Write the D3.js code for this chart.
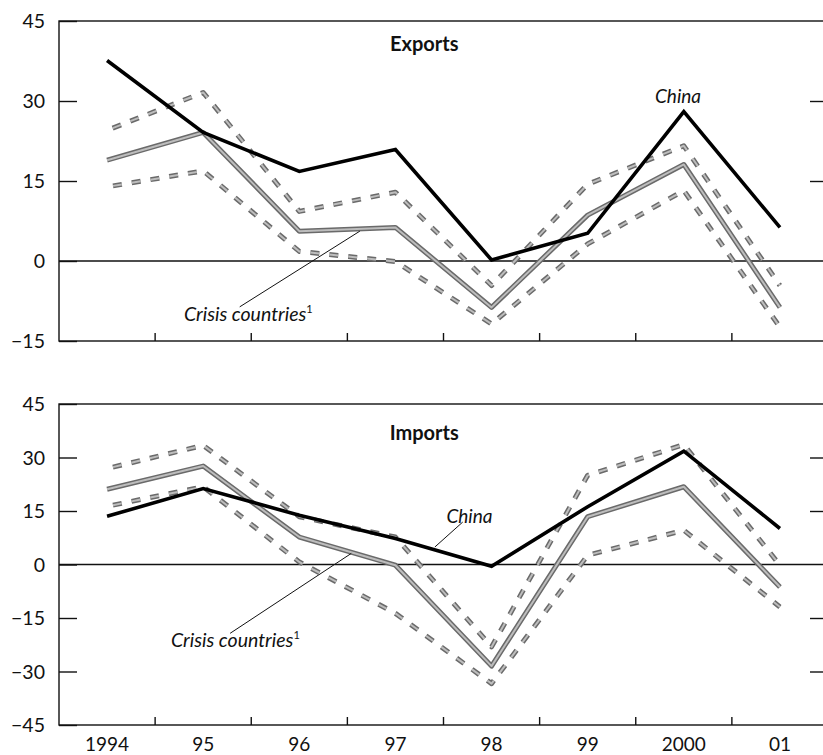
<!DOCTYPE html>
<html>
<head>
<meta charset="utf-8">
<script src="https://cdn.jsdelivr.net/npm/d3@7"></script>
<style>
  html, body { margin: 0; padding: 0; background: #fff; }
  svg { display: block; }
  text { font-family: Lato, "Open Sans", sans-serif; fill: #111; }
</style>
</head>
<body>
<svg id="chart" width="823" height="755"></svg>
<script>
// Annual percent change in trade values, China vs. crisis countries
const years = ["1994", "95", "96", "97", "98", "99", "2000", "01"];
const yTicks = [45, 30, 15, 0, -15, -30, -45];

// Exports
const exportsChina  = [37.6, 24.1, 16.8, 20.9, 0.2, 5.2, 28.0, 6.3];
const exportsCrisis = [18.9, 24.1, 5.6, 6.3, -8.7, 8.6, 18.1, -8.7];
const exportsHigh   = [24.5, 31.6, 9.3, 12.9, -4.6, 14.4, 21.6, -4.6];
const exportsLow    = [13.9, 16.9, 1.8, -0.1, -11.8, 3.2, 13.2, -12.4];

// Imports
const importsChina  = [13.5, 21.3, 13.8, 7.3, -0.5, 16.2, 31.8, 10.1];
const importsCrisis = [21.1, 27.6, 7.7, -0.2, -28.5, 13.4, 21.8, -6.3];
const importsHigh   = [26.9, 33.4, 13.4, 7.7, -23.1, 25.0, 33.6, -0.2];
const importsLow    = [16.3, 21.8, 0.7, -13.7, -33.4, 2.6, 9.6, -11.9];

const svg = d3.select("#chart");

const panels = [
  {
    title: "Exports", top: 21, bottom: 341, domain: [-15, 45],
    ticks: [45, 30, 15, 0, -15], titleV: 39.4,
    china: exportsChina, crisis: exportsCrisis, high: exportsHigh, low: exportsLow,
    chinaLabel: { i: 5.94, v: 29.6, anchor: "middle" },
    chinaLeader: null,
    crisisLabel: { i: 0.80, v: -11.25 },
    crisisLeader: [[1.38, -8.6], [2.63, 5.6]]
  },
  {
    title: "Imports", top: 404, bottom: 725, domain: [-45, 45],
    ticks: yTicks, titleV: 34.8,
    china: importsChina, crisis: importsCrisis, high: importsHigh, low: importsLow,
    chinaLabel: { i: 3.77, v: 11.6, anchor: "middle" },
    chinaLeader: [[3.70, 11.9], [3.41, 4.9]],
    crisisLabel: { i: 0.665, v: -23.0 },
    crisisLeader: [[1.28, -19.3], [2.54, 3.1]]
  }
];

const left = 59, right = 828;
const band = d3.scaleBand().domain(years).range([left, right]);
const x = d3.scalePoint().domain(years).range([left, right]).padding(0.5);
const xi = d3.scaleLinear().domain([0, years.length - 1]).range([x(years[0]), x(years[years.length - 1])]);

panels.forEach((p, pi) => {
  const y = d3.scaleLinear().domain(p.domain).range([p.bottom, p.top]);
  const g = svg.append("g");

  // Frame
  g.append("rect")
    .attr("x", left).attr("y", p.top)
    .attr("width", right - left).attr("height", p.bottom - p.top)
    .attr("fill", "none").attr("stroke", "#111").attr("stroke-width", 1.4);

  // Zero line
  g.append("line")
    .attr("x1", left).attr("x2", right)
    .attr("y1", y(0)).attr("y2", y(0))
    .attr("stroke", "#111").attr("stroke-width", 1.4);

  // Left axis: inward ticks, labels outside
  const yl = g.append("g").attr("transform", `translate(${left},0)`)
    .call(d3.axisRight(y).tickValues(p.ticks).tickSize(18).tickFormat(""));
  yl.select(".domain").remove();
  yl.selectAll("line").attr("stroke", "#111").attr("stroke-width", 1.4);

  g.selectAll("text.ylab").data(p.ticks).join("text")
    .attr("class", "ylab")
    .attr("x", 45).attr("y", d => y(d))
    .attr("dy", "0.36em")
    .attr("text-anchor", "end")
    .attr("font-size", 19.5)
    .text(d => d < 0 ? "\u2212" + Math.abs(d) : d);

  // Right axis: inward ticks
  const yr = g.append("g").attr("transform", `translate(${right},0)`)
    .call(d3.axisLeft(y).tickValues(p.ticks.filter(t => t !== 0 && t !== p.domain[0] && t !== p.domain[1])).tickSize(18).tickFormat(""));
  yr.select(".domain").remove();
  yr.selectAll("line").attr("stroke", "#111").attr("stroke-width", 1.4);

  // Bottom ticks at band boundaries, pointing up
  const bounds = years.slice(1).map(d => band(d));
  g.selectAll("line.xt").data(bounds).join("line")
    .attr("class", "xt")
    .attr("x1", d => d).attr("x2", d => d)
    .attr("y1", p.bottom).attr("y2", p.bottom - 8)
    .attr("stroke", "#111").attr("stroke-width", 1.4);

  // Year labels under the lower panel
  if (pi === 1) {
    g.selectAll("text.xlab").data(years).join("text")
      .attr("class", "xlab")
      .attr("x", d => x(d)).attr("y", 751)
      .attr("text-anchor", "middle")
      .attr("font-size", 19)
      .text(d => d);
  }

  // Panel title
  g.append("text")
    .attr("x", xi(3.3)).attr("y", y(p.titleV))
    .attr("text-anchor", "middle")
    .attr("font-size", 20).attr("font-weight", "bold")
    .text(p.title);

  const line = d3.line().x((d, i) => x(years[i])).y(d => y(d));

  // Grey series: dark edge with lighter core
  const grey = (data, dashed) => {
    const dash = dashed ? "9,10" : null;
    g.append("path").attr("d", line(data))
      .attr("fill", "none").attr("stroke", "#6a6a6a").attr("stroke-width", 5)
      .attr("stroke-dasharray", dash).attr("stroke-dashoffset", dashed ? -6 : 0)
      .attr("stroke-linejoin", "round");
    g.append("path").attr("d", line(data))
      .attr("fill", "none").attr("stroke", "#bdbdbd").attr("stroke-width", 2)
      .attr("stroke-dasharray", dash).attr("stroke-dashoffset", dashed ? -6 : 0)
      .attr("stroke-linejoin", "round");
  };
  grey(p.high, true);
  grey(p.low, true);
  grey(p.crisis, false);

  // China
  g.append("path").attr("d", line(p.china))
    .attr("fill", "none").attr("stroke", "#000").attr("stroke-width", 3.6)
    .attr("stroke-linejoin", "miter");

  // Annotations
  const leader = pts => g.append("line")
    .attr("x1", xi(pts[0][0])).attr("y1", y(pts[0][1]))
    .attr("x2", xi(pts[1][0])).attr("y2", y(pts[1][1]))
    .attr("stroke", "#111").attr("stroke-width", 1);
  if (p.chinaLeader) leader(p.chinaLeader);
  leader(p.crisisLeader);

  g.append("text")
    .attr("x", xi(p.chinaLabel.i)).attr("y", y(p.chinaLabel.v))
    .attr("text-anchor", p.chinaLabel.anchor)
    .attr("font-size", 19).attr("font-style", "italic")
    .text("China");

  const ct = g.append("text")
    .attr("x", xi(p.crisisLabel.i)).attr("y", y(p.crisisLabel.v))
    .attr("font-size", 19.5).attr("font-style", "italic");
  ct.append("tspan").text("Crisis countries");
  ct.append("tspan").attr("font-size", 11).attr("font-style", "normal")
    .attr("dy", -8).text("1");
});
</script>
</body>
</html>
